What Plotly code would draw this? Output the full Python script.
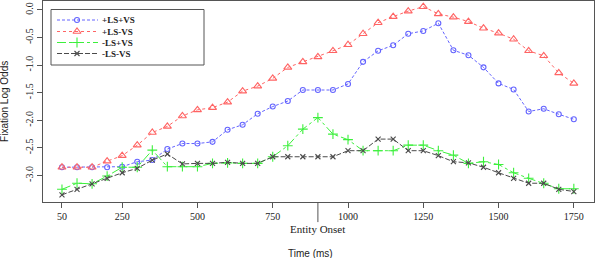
import plotly.graph_objects as go

onset_ms = [50, 100, 150, 200, 250, 300, 350, 400, 450, 500,
            550, 600, 650, 700, 750, 800, 850, 900, 950, 1000,
            1050, 1100, 1150, 1200, 1250, 1300, 1350, 1400, 1450, 1500,
            1550, 1600, 1650, 1700, 1750]

ls_pos_vs_pos = [-2.85, -2.85, -2.85, -2.85, -2.84, -2.75, -2.72, -2.52, -2.42, -2.42,
                 -2.39, -2.17, -2.08, -1.88, -1.75, -1.65, -1.45, -1.45, -1.45, -1.34,
                 -0.94, -0.74, -0.64, -0.43, -0.38, -0.24, -0.73, -0.82, -1.04, -1.33,
                 -1.44, -1.84, -1.79, -1.89, -1.98]
ls_pos_vs_neg = [-2.85, -2.85, -2.85, -2.74, -2.64, -2.45, -2.22, -2.11, -1.92, -1.81,
                 -1.77, -1.67, -1.47, -1.38, -1.24, -1.04, -0.94, -0.85, -0.74, -0.63,
                 -0.43, -0.23, -0.12, -0.02, 0.06, -0.07, -0.13, -0.21, -0.33, -0.42,
                 -0.53, -0.74, -0.83, -1.14, -1.33]
ls_neg_vs_pos = [-3.25, -3.14, -3.15, -3.01, -2.85, -2.85, -2.54, -2.84, -2.84, -2.84,
                 -2.78, -2.77, -2.78, -2.78, -2.66, -2.46, -2.16, -1.95, -2.25, -2.35,
                 -2.55, -2.55, -2.55, -2.45, -2.45, -2.55, -2.63, -2.78, -2.75, -2.80,
                 -2.95, -3.05, -3.14, -3.24, -3.24]
ls_neg_vs_neg = [-3.35, -3.25, -3.15, -3.05, -2.95, -2.87, -2.72, -2.61, -2.79, -2.78,
                 -2.78, -2.76, -2.78, -2.78, -2.66, -2.66, -2.66, -2.66, -2.66, -2.55,
                 -2.55, -2.34, -2.34, -2.55, -2.55, -2.64, -2.75, -2.77, -2.85, -2.95,
                 -3.05, -3.14, -3.14, -3.25, -3.29]

series_names = ["+LS+VS", "+LS-VS", "-LS+VS", "-LS-VS"]
x_tick_vals = [50, 250, 500, 750, 1000, 1250, 1500, 1750]
x_tick_text = ["50", "250", "500", "750", "1000", "1250", "1500", "1750"]
y_tick_vals = [0.0, -0.5, -1.0, -1.5, -2.0, -2.5, -3.0]
y_tick_text = ["0.0", "-0.5", "-1.0", "-1.5", "-2.0", "-2.5", "-3.0"]
entity_onset_ms = 900

styles = [
    dict(color="#6464ff", dash="3px,2px", symbol="circle-open", size=5),
    dict(color="#ff6464", dash="dot", symbol="triangle-up-open", size=7),
    dict(color="#3cf03c", dash="dashdot", symbol="cross-thin-open", size=7),
    dict(color="#4a4a4a", dash="5px,2px", symbol="x-thin-open", size=5),
]
values = [ls_pos_vs_pos, ls_pos_vs_neg, ls_neg_vs_pos, ls_neg_vs_neg]

fig = go.Figure()
for name, vals, st in zip(series_names, values, styles):
    fig.add_trace(go.Scatter(
        x=onset_ms, y=vals, name=name, mode="lines+markers",
        line=dict(color=st["color"], dash=st["dash"], width=1),
        marker=dict(symbol=st["symbol"], size=st["size"], color=st["color"],
                    line=dict(color=st["color"], width=1.1)),
        showlegend=False,
    ))

# custom legend (pixel-like overlay axes)
leg_y = [20, 31.5, 42.5, 53.5]
for name, st, ly in zip(series_names, styles, leg_y):
    fig.add_trace(go.Scatter(
        x=[57, 98], y=[ly, ly], mode="lines", xaxis="x2", yaxis="y2",
        line=dict(color=st["color"], dash=st["dash"], width=1),
        showlegend=False, hoverinfo="skip"))
    fig.add_trace(go.Scatter(
        x=[77], y=[ly], mode="markers", xaxis="x2", yaxis="y2",
        marker=dict(symbol=st["symbol"], size=st["size"], color=st["color"],
                    line=dict(color=st["color"], width=1.1)),
        showlegend=False, hoverinfo="skip"))
    fig.add_annotation(x=100, y=ly, xref="x2", yref="y2", text="<b>%s</b>" % name,
                       showarrow=False, xanchor="left", yanchor="middle",
                       font=dict(family="Liberation Serif", size=9, color="#222"))
fig.add_shape(type="rect", xref="x2", yref="y2", x0=51, x1=204, y0=9.5, y1=65,
              line=dict(color="#555", width=1))

# Entity onset long tick
fig.add_shape(type="line", xref="x", yref="paper", x0=entity_onset_ms, x1=entity_onset_ms,
              y0=0, y1=-0.1, line=dict(color="#555", width=1))
fig.add_annotation(x=entity_onset_ms, y=-0.135, xref="x", yref="paper", text="Entity Onset",
                   showarrow=False, xanchor="center", yanchor="middle",
                   font=dict(family="Liberation Serif", size=11, color="#222"))
fig.add_annotation(x=0.485, y=-0.254, xref="paper", yref="paper", text="Time (ms)",
                   showarrow=False, xanchor="center", yanchor="middle",
                   font=dict(family="Liberation Sans", size=10, color="#222"))
fig.add_annotation(x=-0.07, y=0.5, xref="paper", yref="paper", text="Fixation Log Odds",
                   showarrow=False, textangle=-90, xanchor="center", yanchor="middle",
                   font=dict(family="Liberation Sans", size=10, color="#222"))

fig.update_layout(
    width=595, height=258,
    margin=dict(l=43, r=1, t=1, b=56),
    paper_bgcolor="white", plot_bgcolor="white",
    xaxis=dict(range=[-13, 1817], tickvals=x_tick_vals, ticktext=x_tick_text,
               showgrid=False, zeroline=False, showline=True, mirror=True,
               linecolor="#555", linewidth=1, ticks="outside", ticklen=5,
               tickcolor="#555",
               tickfont=dict(family="Liberation Serif", size=10, color="#222")),
    yaxis=dict(range=[-3.48, 0.163], tickvals=y_tick_vals, ticktext=y_tick_text,
               showgrid=False, zeroline=False, showline=True, mirror=True,
               linecolor="#555", linewidth=1, ticks="outside", ticklen=5,
               tickcolor="#555", tickangle=-90,
               tickfont=dict(family="Liberation Serif", size=10, color="#222")),
    xaxis2=dict(range=[43, 594], overlaying="x", visible=False, fixedrange=True),
    yaxis2=dict(range=[202, 1], overlaying="y", visible=False, fixedrange=True),
    showlegend=False,
)

fig.write_html("out.html", config={"displayModeBar": False},
               post_script="document.body.style.margin='0';document.body.style.padding='0';")
